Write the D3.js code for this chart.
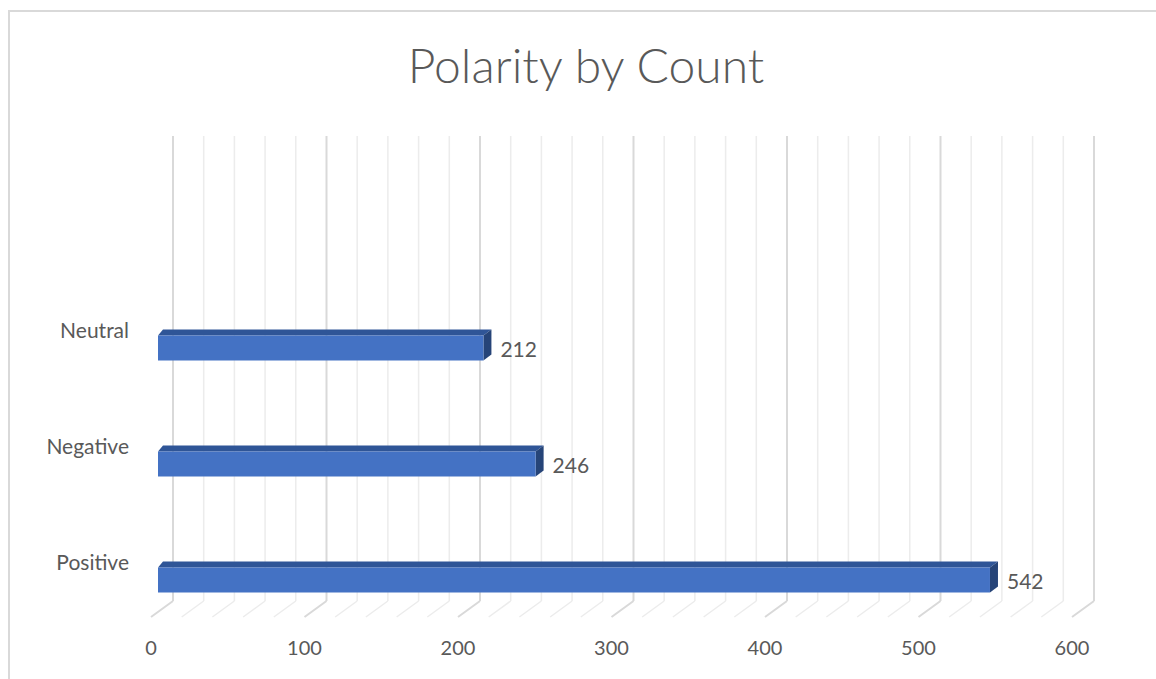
<!DOCTYPE html>
<html>
<head>
<meta charset="utf-8">
<script src="https://cdn.jsdelivr.net/npm/d3@7"></script>
<style>
  body { margin: 0; background: #fff; }
  text { font-family: Lato, "Open Sans", sans-serif; fill: #595959; }
</style>
</head>
<body>
<script>
let categories = ["Positive", "Negative", "Neutral"];
let counts = [542, 246, 212];
let majorTicks = [0, 100, 200, 300, 400, 500, 600];
let minorTicks = d3.range(0, 601, 20);
let title = "Polarity by Count";

let width = 1156;
let height = 679;
let svg = d3.select("body").append("svg")
            .attr("width", width)
            .attr("height", height);

// back wall / floor geometry
let wallTop = 136;
let wallBottom = 601;
let floorDx = -22;
let floorDy = 16;

let x = d3.scaleLinear().domain([0, 600]).range([173, 1094]);
let y = d3.scalePoint().domain(categories).range([580, 348]);
let barH = 25;
let barShift = -15;   // front face sits in front of back wall
let depthDx = 8;
let depthDy = -6;

// chart border
svg.append("rect")
   .attr("x", 9).attr("y", 11)
   .attr("width", width + 10).attr("height", height)
   .attr("fill", "none")
   .attr("stroke", "#d9d9d9")
   .attr("stroke-width", 2);

// title
svg.append("text")
   .attr("x", 586).attr("y", 83)
   .attr("text-anchor", "middle")
   .style("font-size", "48px")
   .style("font-weight", 300)
   .text(title);

// gridlines on back wall + floor
let grid = svg.append("g");
minorTicks.forEach(function(t) {
  let major = t % 100 === 0;
  let color = major ? "#d9d9d9" : "#ececec";
  grid.append("line")
      .attr("x1", x(t)).attr("x2", x(t))
      .attr("y1", wallTop).attr("y2", wallBottom)
      .attr("stroke", color).attr("stroke-width", major ? 2 : 1.5);
  grid.append("line")
      .attr("x1", x(t)).attr("y1", wallBottom)
      .attr("x2", x(t) + floorDx).attr("y2", wallBottom + floorDy)
      .attr("stroke", color).attr("stroke-width", major ? 2 : 1.5);
});

// x tick labels
svg.append("g").selectAll("text")
   .data(majorTicks)
   .join("text")
   .attr("x", function(d) { return x(d) + floorDx; })
   .attr("y", 655)
   .attr("text-anchor", "middle")
   .style("font-size", "20px")
   .text(function(d) { return d; });

// category labels
svg.append("g").selectAll("text")
   .data(categories)
   .join("text")
   .attr("x", 129)
   .attr("y", function(d) { return y(d) - 10; })
   .attr("text-anchor", "end")
   .style("font-size", "21px")
   .text(function(d) { return d; });

// 3d bars
let bars = svg.append("g").selectAll("g")
   .data(categories.map(function(c, i) { return { cat: c, value: counts[i] }; }))
   .join("g");

function frontLeft() { return x(0) + barShift; }
function frontRight(d) { return x(d.value) + barShift; }
function barTop(d) { return y(d.cat) - barH / 2; }

bars.append("path")
    .attr("fill", "#2f5597")
    .attr("d", function(d) {
      let x0 = frontLeft(), x1 = frontRight(d), y0 = barTop(d);
      return "M" + x0 + "," + y0 + "L" + x1 + "," + y0 +
             "L" + (x1 + depthDx) + "," + (y0 + depthDy) +
             "L" + (x0 + 5) + "," + (y0 + depthDy) + "Z";
    });

bars.append("path")
    .attr("fill", "#264478")
    .attr("d", function(d) {
      let x1 = frontRight(d), y0 = barTop(d);
      return "M" + x1 + "," + y0 + "L" + (x1 + depthDx) + "," + (y0 + depthDy) +
             "L" + (x1 + depthDx) + "," + (y0 + barH + depthDy) +
             "L" + x1 + "," + (y0 + barH) + "Z";
    });

bars.append("rect")
    .attr("x", frontLeft())
    .attr("y", barTop)
    .attr("width", function(d) { return frontRight(d) - frontLeft(); })
    .attr("height", barH)
    .attr("fill", "#4472c4");

bars.append("text")
    .attr("x", function(d) { return frontRight(d) + 17; })
    .attr("y", function(d) { return y(d.cat) + 9; })
    .style("font-size", "21px")
    .text(function(d) { return d.value; });
</script>
</body>
</html>
